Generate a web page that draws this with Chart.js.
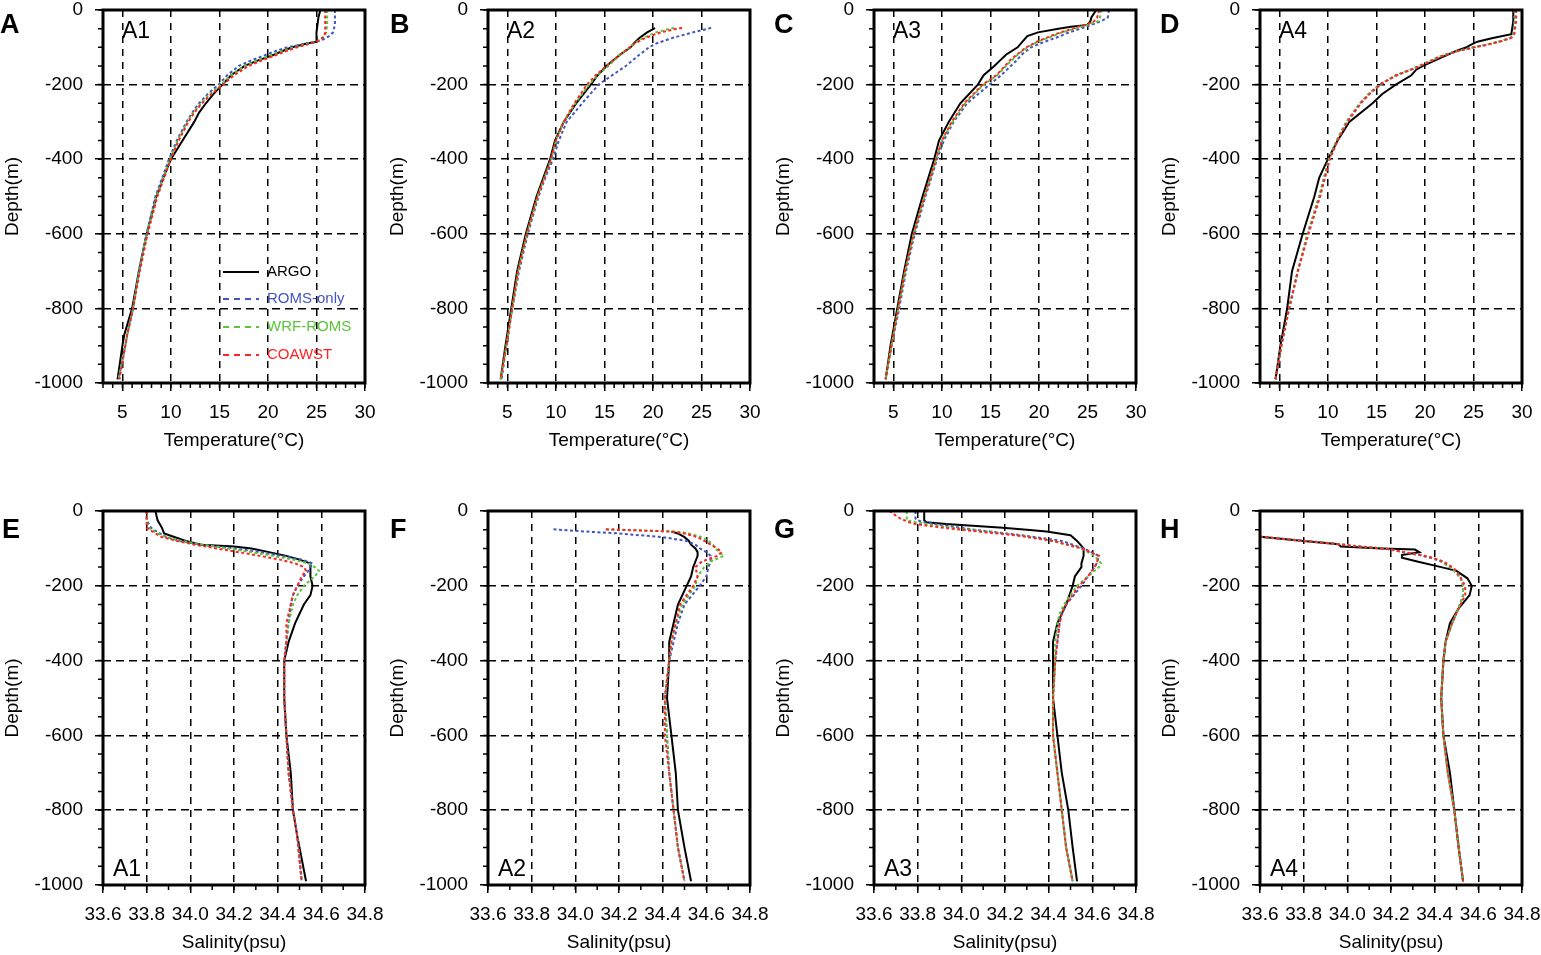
<!DOCTYPE html>
<html lang="en">
<head>
    <meta charset="UTF-8">
    <title>Temperature and salinity profiles A1-A4</title>
    <script src="https://cdn.jsdelivr.net/npm/chart.js@4.4.0/dist/chart.umd.min.js"></script>
    <style>
        body { margin: 0; background: #fff; font-family: "Liberation Sans", Arial, sans-serif; overflow: hidden; }
        #fig { position: relative; width: 1541px; height: 955px; }
        canvas { position: absolute; }
        .letter { position: absolute; font-weight: bold; font-size: 27px; line-height: 1; }
        .site { position: absolute; font-size: 23px; line-height: 1; }
    </style>
</head>
<body>
<div id="fig"></div>

<script>
    // ---- temperature profiles (deg C) ----
    const depthT1 = [0, -20, -40, -60, -70, -80, -85, -90, -100, -110, -120, -135, -150, -175, -200, -225, -250, -275, -300, -350, -400, -450, -500, -600, -700, -800, -870, -900, -990];
    const argoT1 = [25.4, 25.2, 25.1, 25.0, 25.0, 25.0, 25.0, 24.0, 22.5, 21.5, 20.6, 19.0, 17.6, 16.2, 15.3, 14.4, 13.6, 12.9, 12.4, 11.2, 10.0, 9.2, 8.5, 7.5, 6.7, 6.0, 5.2, 5.0, 4.5];
    const romsT1 = [26.9, 26.9, 26.9, 26.7, 26.3, 25.6, 25.0, 24.0, 22.0, 20.8, 19.8, 18.3, 17.0, 15.8, 14.9, 13.8, 12.9, 12.2, 11.6, 10.6, 9.8, 9.1, 8.4, 7.5, 6.7, 6.1, 5.5, 5.3, 4.6];
    const wrfT1 = [26.1, 26.1, 26.1, 26.0, 25.8, 25.4, 25.0, 24.2, 22.7, 21.5, 20.4, 19.0, 17.6, 16.2, 15.2, 14.0, 13.1, 12.3, 11.7, 10.7, 9.9, 9.2, 8.5, 7.5, 6.7, 6.1, 5.5, 5.3, 4.6];
    const coawstT1 = [25.9, 25.9, 25.9, 25.9, 25.8, 25.4, 25.0, 24.4, 23.0, 21.9, 20.9, 19.4, 18.0, 16.5, 15.4, 14.2, 13.2, 12.4, 11.8, 10.8, 10.0, 9.3, 8.6, 7.6, 6.8, 6.1, 5.5, 5.3, 4.7];

    const depthT2 = [-48, -50, -60, -75, -90, -100, -120, -150, -175, -200, -250, -300, -350, -400, -450, -500, -600, -700, -800, -900, -990];
    const argoT2 = [20.2, 20.1, 19.4, 18.6, 18.0, 17.7, 16.6, 15.2, 14.3, 13.6, 12.1, 10.8, 9.9, 9.4, 8.7, 8.0, 6.9, 6.0, 5.4, 4.8, 4.3];
    const romsT2 = [26.0, 25.7, 24.1, 22.0, 20.3, 19.6, 18.6, 17.2, 15.8, 14.4, 12.7, 11.1, 10.3, 9.7, 8.9, 8.2, 7.1, 6.2, 5.5, 4.9, 4.4];
    const wrfT2 = [22.2, 21.8, 20.3, 19.0, 18.0, 17.6, 16.6, 15.4, 14.3, 13.4, 12.0, 10.8, 10.0, 9.5, 8.8, 8.1, 7.0, 6.1, 5.5, 4.9, 4.3];
    const coawstT2 = [23.0, 22.5, 20.8, 19.2, 18.1, 17.6, 16.6, 15.2, 14.1, 13.2, 11.9, 10.8, 10.0, 9.5, 8.8, 8.1, 7.0, 6.1, 5.5, 4.9, 4.3];

    const depthT3 = [0, -20, -30, -40, -45, -50, -60, -70, -85, -100, -120, -135, -150, -175, -200, -250, -300, -350, -400, -450, -500, -600, -700, -800, -900, -990];
    const argoT3 = [25.9, 25.4, 25.3, 25.0, 23.3, 22.0, 19.9, 18.8, 18.3, 17.8, 16.6, 16.0, 15.4, 14.3, 13.7, 11.9, 10.7, 9.7, 9.2, 8.6, 8.0, 6.9, 6.1, 5.4, 4.7, 4.2];
    const romsT3 = [27.2, 27.1, 26.4, 25.4, 24.8, 24.3, 23.1, 22.2, 20.6, 19.2, 18.2, 17.7, 17.1, 16.1, 14.9, 12.6, 11.2, 10.2, 9.5, 8.9, 8.3, 7.2, 6.3, 5.6, 4.8, 4.2];
    const wrfT3 = [26.4, 26.3, 26.1, 25.0, 24.3, 23.7, 22.4, 21.4, 19.9, 18.8, 17.8, 17.2, 16.6, 15.7, 14.3, 12.4, 11.1, 10.0, 9.4, 8.8, 8.2, 7.1, 6.2, 5.5, 4.8, 4.2];
    const coawstT3 = [26.2, 26.0, 25.7, 24.8, 24.0, 23.5, 22.2, 21.2, 19.8, 18.7, 17.7, 17.0, 16.5, 15.6, 14.2, 12.3, 11.0, 10.0, 9.4, 8.8, 8.2, 7.1, 6.2, 5.5, 4.8, 4.2];

    const depthT4 = [0, -30, -65, -75, -85, -95, -100, -110, -125, -150, -160, -175, -200, -225, -250, -300, -350, -400, -450, -500, -600, -700, -800, -900, -990];
    const argoT4 = [29.1, 29.1, 28.9, 27.0, 25.4, 24.6, 24.3, 23.2, 21.9, 19.8, 19.1, 18.6, 17.0, 15.6, 14.6, 12.2, 11.0, 10.0, 9.1, 8.6, 7.4, 6.3, 5.8, 5.1, 4.6];
    const romsT4 = [29.2, 29.2, 29.1, 28.8, 27.6, 26.0, 25.0, 23.3, 21.5, 19.4, 18.5, 17.0, 15.3, 14.2, 13.3, 11.9, 10.9, 10.1, 9.6, 9.1, 7.9, 6.9, 6.0, 5.2, 4.6];
    const wrfT4 = [29.3, 29.3, 29.1, 28.8, 27.6, 26.0, 25.0, 23.3, 21.5, 19.4, 18.5, 17.0, 15.4, 14.2, 13.3, 11.9, 10.9, 10.1, 9.6, 9.1, 7.9, 6.9, 6.0, 5.2, 4.6];
    const coawstT4 = [29.4, 29.4, 29.2, 28.9, 27.7, 26.1, 25.1, 23.4, 21.6, 19.5, 18.6, 17.1, 15.4, 14.3, 13.4, 12.0, 11.0, 10.2, 9.7, 9.2, 8.0, 6.9, 6.0, 5.2, 4.6];

    // ---- salinity profiles (psu) ----
    const depthS1 = [0, -25, -45, -60, -70, -80, -90, -95, -100, -110, -120, -130, -140, -150, -160, -175, -200, -225, -250, -300, -350, -400, -500, -600, -700, -800, -870, -990];
    const argoS1 = [33.84, 33.85, 33.87, 33.88, 33.93, 33.98, 34.05, 34.20, 34.28, 34.36, 34.44, 34.50, 34.55, 34.55, 34.55, 34.55, 34.56, 34.55, 34.52, 34.48, 34.45, 34.43, 34.43, 34.44, 34.46, 34.47, 34.49, 34.53];
    const romsS1 = [33.80, 33.80, 33.82, 33.86, 33.89, 33.95, 34.05, 34.12, 34.20, 34.32, 34.42, 34.51, 34.56, 34.55, 34.54, 34.52, 34.49, 34.47, 34.46, 34.45, 34.44, 34.43, 34.43, 34.44, 34.45, 34.47, 34.49, 34.51];
    const wrfS1 = [33.80, 33.80, 33.81, 33.85, 33.89, 33.96, 34.06, 34.12, 34.17, 34.28, 34.38, 34.47, 34.54, 34.57, 34.59, 34.57, 34.52, 34.49, 34.47, 34.45, 34.44, 34.43, 34.43, 34.44, 34.45, 34.47, 34.49, 34.51];
    const coawstS1 = [33.80, 33.80, 33.80, 33.84, 33.87, 33.94, 34.02, 34.07, 34.12, 34.22, 34.32, 34.41, 34.48, 34.52, 34.53, 34.51, 34.49, 34.47, 34.46, 34.44, 34.44, 34.43, 34.43, 34.44, 34.45, 34.47, 34.49, 34.51];

    const depthS2 = [-49, -55, -60, -70, -80, -90, -100, -110, -120, -135, -150, -175, -200, -250, -300, -350, -400, -500, -600, -700, -800, -900, -990];
    const argoS2 = [null, 34.44, 34.47, 34.50, 34.52, 34.53, 34.55, 34.56, 34.56, 34.55, 34.54, 34.53, 34.51, 34.47, 34.45, 34.43, 34.43, 34.42, 34.44, 34.46, 34.47, 34.50, 34.53];
    const romsS2 = [33.90, 34.05, 34.20, 34.40, 34.51, 34.55, 34.57, 34.60, 34.62, 34.62, 34.61, 34.60, 34.57, 34.50, 34.47, 34.45, 34.43, 34.41, 34.42, 34.43, 34.45, 34.47, 34.50];
    const wrfS2 = [34.14, 34.46, 34.52, 34.58, 34.61, 34.63, 34.64, 34.66, 34.68, 34.62, 34.59, 34.56, 34.55, 34.49, 34.46, 34.44, 34.43, 34.41, 34.42, 34.43, 34.45, 34.47, 34.50];
    const coawstS2 = [34.14, 34.44, 34.50, 34.56, 34.59, 34.62, 34.65, 34.67, 34.65, 34.58, 34.55, 34.56, 34.54, 34.48, 34.46, 34.44, 34.43, 34.41, 34.41, 34.43, 34.45, 34.47, 34.50];

    const depthS3 = [0, -20, -25, -30, -35, -45, -50, -55, -65, -80, -100, -120, -140, -150, -175, -200, -250, -275, -300, -350, -400, -500, -600, -700, -800, -900, -990];
    const argoS3 = [33.83, 33.83, 33.83, 33.84, 33.93, 34.19, 34.30, 34.39, 34.50, 34.53, 34.56, 34.56, 34.55, 34.55, 34.52, 34.51, 34.48, 34.46, 34.44, 34.42, 34.42, 34.42, 34.44, 34.46, 34.49, 34.51, 34.53];
    const romsS3 = [33.79, 33.79, 33.80, 33.83, 33.88, 34.00, 34.06, 34.13, 34.28, 34.46, 34.56, 34.63, 34.62, 34.61, 34.58, 34.55, 34.48, 34.46, 34.45, 34.44, 34.43, 34.42, 34.42, 34.44, 34.46, 34.48, 34.51];
    const wrfS3 = [33.75, 33.75, 33.75, 33.79, 33.84, 33.96, 34.04, 34.11, 34.26, 34.42, 34.55, 34.61, 34.64, 34.63, 34.58, 34.53, 34.47, 34.45, 34.44, 34.43, 34.43, 34.42, 34.42, 34.44, 34.46, 34.48, 34.51];
    const coawstS3 = [33.67, 33.72, 33.74, 33.76, 33.79, 33.92, 34.00, 34.08, 34.25, 34.42, 34.55, 34.63, 34.62, 34.61, 34.58, 34.54, 34.48, 34.46, 34.45, 34.44, 34.43, 34.42, 34.42, 34.44, 34.46, 34.48, 34.51];

    const depthS4 = [-69, -80, -89, -95, -100, -103, -110, -118, -125, -135, -150, -160, -180, -200, -225, -260, -300, -350, -400, -500, -600, -700, -800, -900, -990];
    const argoS4 = [33.60, 33.80, 33.96, 33.97, 34.16, 34.31, 34.33, 34.25, 34.25, 34.32, 34.43, 34.50, 34.55, 34.57, 34.56, 34.51, 34.47, 34.45, 34.44, 34.43, 34.44, 34.47, 34.49, 34.51, 34.53];
    const romsS4 = [33.60, 33.81, 33.97, 34.06, 34.16, 34.20, 34.25, 34.33, 34.38, 34.43, 34.47, 34.49, 34.52, 34.53, 34.53, 34.51, 34.48, 34.45, 34.44, 34.43, 34.44, 34.46, 34.49, 34.51, 34.53];
    const wrfS4 = [33.60, 33.81, 33.97, 34.06, 34.16, 34.20, 34.26, 34.34, 34.39, 34.43, 34.47, 34.49, 34.52, 34.53, 34.53, 34.51, 34.48, 34.45, 34.44, 34.43, 34.44, 34.46, 34.49, 34.51, 34.53];
    const coawstS4 = [33.60, 33.80, 33.96, 34.05, 34.15, 34.20, 34.26, 34.34, 34.39, 34.44, 34.48, 34.50, 34.52, 34.54, 34.54, 34.51, 34.48, 34.45, 34.44, 34.43, 34.44, 34.46, 34.49, 34.51, 34.53];

    const seriesNames = ["ARGO", "ROMS-only", "WRF-ROMS", "COAWST"];
    const seriesColors = ["#000000", "#4155c0", "#5bc53a", "#ff2424"];
    const sites = ["A1", "A2", "A3", "A4"];
    const letters = ["A", "B", "C", "D", "E", "F", "G", "H"];

    const panels = [
        { depth: depthT1, vals: [argoT1, romsT1, wrfT1, coawstT1], kind: "T" },
        { depth: depthT2, vals: [argoT2, romsT2, wrfT2, coawstT2], kind: "T" },
        { depth: depthT3, vals: [argoT3, romsT3, wrfT3, coawstT3], kind: "T" },
        { depth: depthT4, vals: [argoT4, romsT4, wrfT4, coawstT4], kind: "T" },
        { depth: depthS1, vals: [argoS1, romsS1, wrfS1, coawstS1], kind: "S" },
        { depth: depthS2, vals: [argoS2, romsS2, wrfS2, coawstS2], kind: "S" },
        { depth: depthS3, vals: [argoS3, romsS3, wrfS3, coawstS3], kind: "S" },
        { depth: depthS4, vals: [argoS4, romsS4, wrfS4, coawstS4], kind: "S" }
    ];

    // layout of the plot frames
    const plotLeft = [103, 488, 874, 1260];
    const plotTop = [10, 511];
    const plotW = 262, plotH = [373, 374];
    const axisW = 102, axisH = 69, padTop = 26, padRight = 34;

    Chart.defaults.font.family = '"Liberation Sans", Arial, sans-serif';
    Chart.defaults.font.size = 19;
    Chart.defaults.color = "#000";

    // short outward minor ticks + heavy frame
    const frameTicks = {
        id: "frameTicks",
        afterDraw(chart, args, opts) {
            const { ctx, chartArea: a, scales: { x, y } } = chart;
            ctx.save();
            ctx.strokeStyle = "#000";
            ctx.lineWidth = 1.5;
            ctx.beginPath();
            for (let k = 0; ; k++) {
                const v = y.min + k * opts.yStep;
                if (v > y.max + 1e-9) break;
                const py = y.getPixelForValue(v);
                ctx.moveTo(a.left - 5, py); ctx.lineTo(a.left, py);
            }
            for (let k = 0; ; k++) {
                const v = x.min + k * opts.xStep;
                if (v > x.max + 1e-9) break;
                const px = x.getPixelForValue(v);
                ctx.moveTo(px, a.bottom); ctx.lineTo(px, a.bottom + 5);
            }
            ctx.stroke();
            ctx.lineWidth = 3;
            ctx.strokeRect(a.left, a.top, a.right - a.left, a.bottom - a.top);
            ctx.restore();
        }
    };

    // legend inside panel A
    const innerLegend = {
        id: "innerLegend",
        afterDraw(chart, args, opts) {
            if (!opts.show) return;
            const { ctx, chartArea: a } = chart;
            const rows = [262, 289, 317, 345];
            ctx.save();
            ctx.font = '15px "Liberation Sans", Arial, sans-serif';
            ctx.textBaseline = "middle";
            seriesNames.forEach((name, i) => {
                const yy = a.top + rows[i];
                ctx.strokeStyle = seriesColors[i];
                ctx.lineWidth = 2;
                ctx.setLineDash(i === 0 ? [] : [6, 5]);
                ctx.beginPath();
                ctx.moveTo(a.left + 120, yy); ctx.lineTo(a.left + 156, yy);
                ctx.stroke();
                ctx.fillStyle = seriesColors[i];
                ctx.fillText(name, a.left + 164, yy);
            });
            ctx.restore();
        }
    };

    const fig = document.getElementById("fig");

    panels.forEach((p, idx) => {
        const col = idx % 4, row = Math.floor(idx / 4);
        const canvas = document.createElement("canvas");
        const w = axisW + plotW + padRight, h = padTop + plotH[row] + axisH;
        canvas.width = w; canvas.height = h;
        canvas.style.left = (plotLeft[col] - axisW) + "px";
        canvas.style.top = (plotTop[row] - padTop) + "px";
        fig.appendChild(canvas);

        const isT = p.kind === "T";
        const xMin = isT ? 3 : 33.6, xMax = isT ? 30 : 34.8;

        const datasets = p.vals.map((vals, i) => ({
            label: seriesNames[i],
            data: p.depth.map((d, j) => ({ x: vals[j], y: d })).filter(pt => pt.x !== null),
            borderColor: seriesColors[i],
            borderWidth: 2,
            borderDash: i === 0 ? [] : [3, 2.5],
            pointRadius: 0,
            tension: 0,
            fill: false,
            order: 4 - i
        }));

        const edge = (v, lo, hi) => Math.abs(v - lo) < 1e-6 || Math.abs(v - hi) < 1e-6;

        new Chart(canvas.getContext("2d"), {
            type: "line",
            data: { datasets },
            plugins: [frameTicks, innerLegend],
            options: {
                responsive: false,
                animation: false,
                layout: { padding: { top: padTop, right: padRight, left: 0, bottom: 0 } },
                plugins: {
                    legend: { display: false },
                    tooltip: { enabled: false },
                    frameTicks: { xStep: isT ? 1 : 0.1, yStep: 50 },
                    innerLegend: { show: idx === 0 }
                },
                scales: {
                    x: {
                        type: "linear",
                        min: xMin, max: xMax,
                        afterFit: s => { s.height = axisH; },
                        ticks: {
                            stepSize: isT ? 5 : 0.2,
                            includeBounds: false,
                            autoSkip: false,
                            maxRotation: 0, minRotation: 0,
                            padding: 10,
                            callback: v => isT ? String(v) : v.toFixed(1)
                        },
                        grid: {
                            color: c => (c.tick && edge(c.tick.value, xMin, xMax)) ? "rgba(0,0,0,0)" : "#000",
                            lineWidth: 1.5,
                            tickColor: "#000",
                            tickLength: 8,
                            tickWidth: 1.5
                        },
                        border: { display: false, dash: [7, 6] },
                        title: {
                            display: true,
                            text: isT ? "Temperature(\u00b0C)" : "Salinity(psu)",
                            padding: { top: 0, bottom: 0 }
                        }
                    },
                    y: {
                        type: "linear",
                        min: -1000, max: 0,
                        afterFit: s => { s.width = axisW; },
                        ticks: {
                            stepSize: 200,
                            autoSkip: false,
                            padding: 12,
                            callback: v => String(v)
                        },
                        grid: {
                            color: c => (c.tick && edge(c.tick.value, -1000, 0)) ? "rgba(0,0,0,0)" : "#000",
                            lineWidth: 1.5,
                            tickColor: "#000",
                            tickLength: 8,
                            tickWidth: 1.5
                        },
                        border: { display: false, dash: [8, 5] },
                        title: {
                            display: true,
                            text: "Depth(m)",
                            padding: { top: 0, bottom: 0 }
                        }
                    }
                }
            }
        });

        const letter = document.createElement("div");
        letter.className = "letter";
        letter.textContent = letters[idx];
        letter.style.left = ([0, 390, 774, 1160][col] + (row === 1 && col === 0 ? 2 : 0)) + "px";
        letter.style.top = (row === 0 ? 11 : 516) + "px";
        fig.appendChild(letter);

        const site = document.createElement("div");
        site.className = "site";
        site.textContent = sites[col];
        site.style.left = (plotLeft[col] + (row === 0 ? 19 : 10)) + "px";
        site.style.top = (row === 0 ? 19 : 857) + "px";
        fig.appendChild(site);
    });
</script>
</body>
</html>
